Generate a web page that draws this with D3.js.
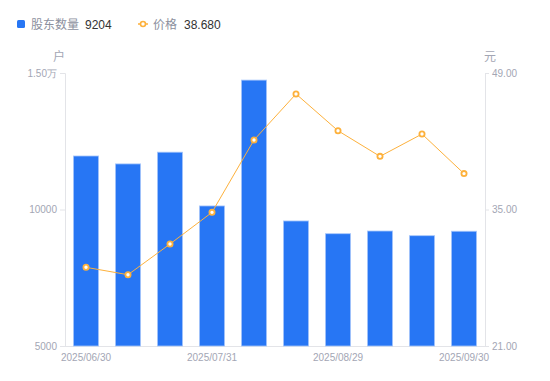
<!DOCTYPE html>
<html>
<head>
<meta charset="utf-8">
<script src="https://cdn.jsdelivr.net/npm/d3@7"></script>
<style>
  body { margin: 0; background: #fff; }
  svg { display: block; font-family: "Liberation Sans", Arial, "Noto Sans CJK SC", sans-serif; }
</style>
</head>
<body>
<svg id="chart" width="550" height="381"></svg>
<script>
// 股东户数 / 价格
var dates = ['2025/06/30', '2025/07/10', '2025/07/18', '2025/07/31', '2025/08/08',
             '2025/08/20', '2025/08/29', '2025/09/10', '2025/09/19', '2025/09/30'];
var holders = [11960, 11670, 12100, 10130, 14740, 9580, 9113, 9212, 9040, 9204];
var prices = [29.07, 28.31, 31.46, 34.71, 42.13, 46.85, 43.08, 40.45, 42.74, 38.68];
var leftTicks = [5000, 10000, 15000];
var rightTicks = [21, 35, 49];
var shownDates = ['2025/06/30', '2025/07/31', '2025/08/29', '2025/09/30'];

var svg = d3.select('#chart');
// window.top is reserved, so plot edges get their own names
var plotL = 65, plotR = 485, plotT = 73, plotB = 346;
var axisColor = '#e3e4e8', labelColor = '#a3a6b4';
var blue = '#2776f4', orange = '#fdb13c';

var x = d3.scaleBand().domain(dates).range([plotL, plotR]).paddingInner(0.4).paddingOuter(0.2);
var yL = d3.scaleLinear().domain([5000, 15000]).range([plotB, plotT]);
var yR = d3.scaleLinear().domain([21, 49]).range([plotB, plotT]);

// axes
var gL = svg.append('g').attr('transform', 'translate(' + plotL + ',0)')
  .call(d3.axisLeft(yL).tickValues(leftTicks).tickSize(5).tickPadding(3)
    .tickFormat(function(d){ return d >= 15000 ? (d / 10000).toFixed(2) + '万' : d; }));
var gR = svg.append('g').attr('transform', 'translate(' + plotR + ',0)')
  .call(d3.axisRight(yR).tickValues(rightTicks).tickSize(4).tickPadding(3)
    .tickFormat(d3.format('.2f')));
var gB = svg.append('g').attr('transform', 'translate(0,' + plotB + ')')
  .call(d3.axisBottom(x).tickValues(shownDates).tickSize(0).tickPadding(8));

[gL, gR, gB].forEach(function(g){
  g.select('.domain').attr('stroke', axisColor);
  g.selectAll('.tick line').attr('stroke', axisColor);
  g.selectAll('.tick text').attr('fill', labelColor).style('font-size', '10px');
});
gB.select('.domain').attr('d', 'M' + plotL + ',0.5H' + plotR);

svg.append('text').attr('x', 59).attr('y', 61).attr('text-anchor', 'middle')
  .attr('fill', labelColor).style('font-size', '12px').text('户');
svg.append('text').attr('x', 490).attr('y', 61).attr('text-anchor', 'middle')
  .attr('fill', labelColor).style('font-size', '12px').text('元');

// bars
svg.append('g').selectAll('rect').data(holders).enter().append('rect')
  .attr('x', function(d, i){ return x(dates[i]); })
  .attr('y', function(d){ return yL(d); })
  .attr('width', x.bandwidth())
  .attr('height', function(d){ return plotB - yL(d); })
  .attr('fill', blue)
  .attr('stroke', '#a8c7fb').attr('stroke-width', 0.8);

// price line
var line = d3.line()
  .x(function(d, i){ return x(dates[i]) + x.bandwidth() / 2; })
  .y(function(d){ return yR(d); });
svg.append('path').datum(prices).attr('d', line)
  .attr('fill', 'none').attr('stroke', orange).attr('stroke-width', 1);
svg.append('g').selectAll('circle').data(prices).enter().append('circle')
  .attr('cx', function(d, i){ return x(dates[i]) + x.bandwidth() / 2; })
  .attr('cy', function(d){ return yR(d); })
  .attr('r', 2.6)
  .attr('fill', '#fff').attr('stroke', orange).attr('stroke-width', 1.8);

// legend
var lg = svg.append('g');
lg.append('rect').attr('x', 17).attr('y', 20).attr('width', 8).attr('height', 8)
  .attr('rx', 1.5).attr('fill', blue);
lg.append('text').attr('x', 31).attr('y', 28.5).attr('fill', '#8c909e')
  .style('font-size', '12px').text('股东数量');
lg.append('text').attr('x', 85).attr('y', 28.5).attr('fill', '#333')
  .style('font-size', '12px').text(holders[holders.length - 1]);
lg.append('line').attr('x1', 138).attr('x2', 148).attr('y1', 24).attr('y2', 24)
  .attr('stroke', orange).attr('stroke-width', 1.5);
lg.append('circle').attr('cx', 143).attr('cy', 24).attr('r', 2.5)
  .attr('fill', '#fff').attr('stroke', orange).attr('stroke-width', 1.6);
lg.append('text').attr('x', 153).attr('y', 28.5).attr('fill', '#8c909e')
  .style('font-size', '12px').text('价格');
lg.append('text').attr('x', 184).attr('y', 28.5).attr('fill', '#333')
  .style('font-size', '12px').text(prices[prices.length - 1].toFixed(3));
</script>
</body>
</html>
